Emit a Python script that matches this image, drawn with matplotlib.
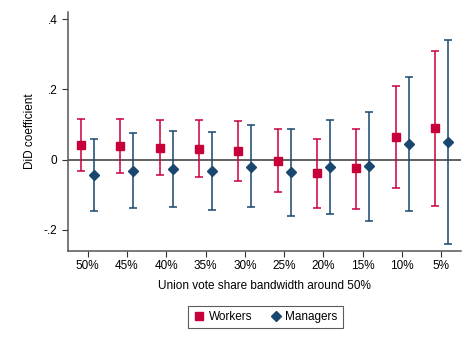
import matplotlib
matplotlib.use("Agg")
import matplotlib.pyplot as plt
import numpy as np
from matplotlib.lines import Line2D

plt.rcParams['font.family'] = ['Liberation Sans', 'DejaVu Sans']

labels = ["50%", "45%", "40%", "35%", "30%", "25%", "20%", "15%", "10%", "5%"]
workers = [0.043, 0.038, 0.033, 0.031, 0.026, -0.003, -0.038, -0.025, 0.065, 0.091]
workers_hi = [0.117, 0.116, 0.113, 0.112, 0.111, 0.086, 0.060, 0.088, 0.210, 0.310]
workers_lo = [-0.032, -0.039, -0.044, -0.050, -0.060, -0.092, -0.137, -0.139, -0.080, -0.131]
managers = [-0.044, -0.031, -0.027, -0.033, -0.020, -0.035, -0.022, -0.019, 0.045, 0.049]
managers_hi = [0.058, 0.075, 0.082, 0.079, 0.098, 0.087, 0.114, 0.136, 0.236, 0.339]
managers_lo = [-0.147, -0.137, -0.134, -0.144, -0.136, -0.159, -0.156, -0.174, -0.145, -0.239]

red = "#C8003A"
navy = "#1A476F"

fig = plt.figure(figsize=(4.73, 3.44), dpi=100)
ax = fig.add_axes([68/473, 1 - 250.7/344, (461-68)/473, (250.7-12)/344])

x = np.arange(1, len(labels) + 1)
off = 0.165
w = np.array(workers); m = np.array(managers)
ax.axhline(0, color="#555555", lw=1.3, zorder=1)
ax.errorbar(x - off, w, yerr=[w - np.array(workers_lo), np.array(workers_hi) - w],
            fmt="s", color=red, ecolor=red, elinewidth=1.1, capsize=3, capthick=1.1,
            markersize=5.8, label="Workers", zorder=3)
ax.errorbar(x + off, m, yerr=[m - np.array(managers_lo), np.array(managers_hi) - m],
            fmt="D", color=navy, ecolor=navy, elinewidth=1.1, capsize=3, capthick=1.1,
            markersize=5.2, label="Managers", zorder=3)

ax.set_xlim(0.5, 10.5)
ax.set_ylim(-0.259, 0.42)
ax.set_xticks(x)
ax.set_xticklabels(labels)
ax.set_yticks([-0.2, 0, 0.2, 0.4])
ax.set_yticklabels(["-.2", "0", ".2", ".4"])
for s in ["top", "right"]:
    ax.spines[s].set_visible(False)
for s in ["left", "bottom"]:
    ax.spines[s].set_color("#555555")
    ax.spines[s].set_linewidth(1.1)
ax.tick_params(axis="both", labelsize=8.5, color="#333333", length=4, width=0.8)
ax.tick_params(axis="x", pad=2.5)
ax.set_xlabel("Union vote share bandwidth around 50%", fontsize=8.5, labelpad=6)
ax.set_ylabel("DiD coefficient", fontsize=8.5, labelpad=6)

handles = [Line2D([], [], marker="s", color=red, ls="none", markersize=5.5),
           Line2D([], [], marker="D", color=navy, ls="none", markersize=5)]
leg = fig.legend(handles, ["Workers", "Managers"], loc="center",
                 bbox_to_anchor=(265.5/473, 1 - 317/344), ncol=2, fontsize=8.5,
                 frameon=True, fancybox=False, edgecolor="#333333",
                 handletextpad=0.3, columnspacing=1.5, borderpad=0.45, handlelength=1.0)
leg.get_frame().set_linewidth(0.8)

fig.savefig("out.png", dpi=100)
